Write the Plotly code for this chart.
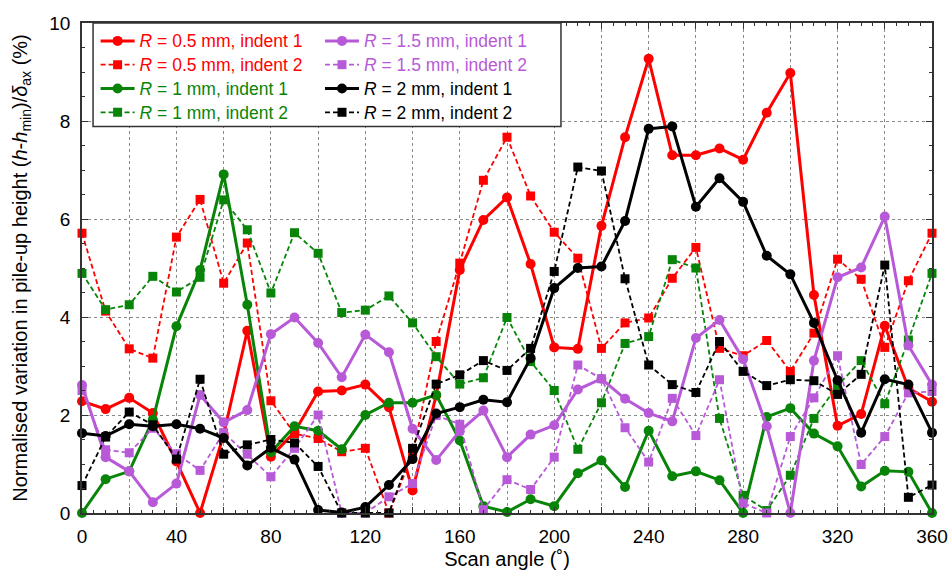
import plotly.graph_objects as go

angles = list(range(0, 361, 10))

r05_ind1 = [2.28, 2.12, 2.35, 2.04, 1.05, 0.00, 1.60, 3.72, 1.15, 1.65, 2.48, 2.50, 2.62, 2.16, 0.46, 2.40, 4.96, 5.98, 6.44, 5.08, 3.38, 3.35, 5.86, 7.67, 9.27, 7.30, 7.30, 7.44, 7.21, 8.17, 8.98, 4.45, 1.78, 2.02, 3.82, 2.55, 2.27]
r05_ind2 = [5.71, 4.12, 3.35, 3.16, 5.63, 6.40, 4.69, 5.51, 2.29, 1.62, 1.52, 1.25, 1.32, 0.00, 1.20, 3.50, 5.10, 6.79, 7.67, 6.47, 5.73, 5.20, 3.36, 3.88, 3.98, 4.79, 5.42, 3.36, 3.21, 3.52, 2.89, 3.67, 5.18, 4.77, 3.38, 4.74, 5.71]
r1_ind1 = [0.00, 0.69, 0.85, 1.90, 3.81, 4.96, 6.91, 4.25, 1.24, 1.77, 1.68, 1.30, 2.00, 2.25, 2.25, 2.41, 1.48, 0.14, 0.02, 0.28, 0.14, 0.81, 1.07, 0.53, 1.68, 0.75, 0.85, 0.67, 0.00, 1.96, 2.14, 1.62, 1.36, 0.54, 0.86, 0.84, 0.00]
r1_ind2 = [4.89, 4.15, 4.25, 4.83, 4.51, 4.81, 6.39, 5.78, 4.49, 5.72, 5.30, 4.09, 4.14, 4.43, 3.88, 3.19, 2.63, 2.76, 3.99, 3.09, 2.50, 1.30, 2.25, 3.46, 3.60, 5.17, 5.00, 1.93, 0.36, 0.05, 0.77, 1.93, 2.60, 3.11, 2.23, 3.53, 4.89]
r15_ind1 = [2.61, 1.14, 0.85, 0.22, 0.60, 2.41, 1.85, 2.10, 3.65, 3.99, 3.47, 2.77, 3.64, 3.28, 1.72, 1.08, 1.67, 2.09, 1.14, 1.60, 1.79, 2.52, 2.74, 2.33, 2.04, 1.87, 3.57, 3.94, 3.14, 1.77, 0.00, 3.11, 4.81, 5.01, 6.05, 3.42, 2.62]
r15_ind2 = [2.50, 1.29, 1.23, 1.73, 1.21, 0.87, 1.64, 1.20, 0.74, 1.32, 2.00, 0.00, 0.00, 0.33, 0.60, 1.99, 1.81, 0.07, 0.68, 0.48, 1.14, 3.02, 2.74, 1.74, 1.04, 2.34, 1.58, 2.72, 0.20, 0.00, 1.56, 2.35, 3.21, 0.99, 1.56, 2.45, 2.48]
r2_ind1 = [1.63, 1.57, 1.81, 1.77, 1.81, 1.72, 1.53, 0.97, 1.33, 1.09, 0.06, 0.01, 0.12, 0.57, 1.10, 2.03, 2.16, 2.31, 2.26, 3.16, 4.59, 5.00, 5.03, 5.96, 7.84, 7.89, 6.25, 6.83, 6.35, 5.25, 4.87, 3.88, 2.71, 1.64, 2.73, 2.62, 1.64]
r2_ind2 = [0.56, 1.55, 2.06, 1.80, 1.10, 2.73, 1.20, 1.39, 1.50, 1.43, 0.95, 0.00, 0.00, 0.00, 1.32, 2.63, 2.82, 3.11, 2.91, 3.36, 4.93, 7.06, 6.98, 4.78, 3.02, 2.62, 2.46, 3.50, 2.89, 2.60, 2.72, 2.70, 2.42, 2.83, 5.06, 0.32, 0.57]

x_tickvals = list(range(0, 361, 20))
x_ticktext = [str(v) if v % 40 == 0 else "" for v in x_tickvals]

RED = "#FF0000"
GREEN = "#088408"
PURPLE = "#B85AD8"
BLACK = "#000000"

series = [
    ("0.5", "1", r05_ind1, RED, "legend"),
    ("0.5", "2", r05_ind2, RED, "legend"),
    ("1", "1", r1_ind1, GREEN, "legend"),
    ("1", "2", r1_ind2, GREEN, "legend"),
    ("1.5", "1", r15_ind1, PURPLE, "legend2"),
    ("1.5", "2", r15_ind2, PURPLE, "legend2"),
    ("2", "1", r2_ind1, BLACK, "legend2"),
    ("2", "2", r2_ind2, BLACK, "legend2"),
]

fig = go.Figure()
for rad, ind, vals, col, leg in series:
    solid = ind == "1"
    name = f'<span style="color:{col};font-size:17.5px"><i>R</i> = {rad} mm, indent {ind}</span>'
    fig.add_trace(go.Scatter(
        x=angles, y=vals, mode="lines+markers", name=name, legend=leg,
        line=dict(color=col, width=3 if solid else 1.8, dash="solid" if solid else "5px,3px"),
        marker=dict(color=col, size=10 if solid else 9, symbol="circle" if solid else "square"),
        cliponaxis=False,
    ))

FAMILY = "Liberation Sans, Arial, sans-serif"
tick_font = dict(family=FAMILY, size=19, color="black")
title_font = dict(family=FAMILY, size=20, color="black")
legend_font = dict(family=FAMILY, size=16, color="black")

fig.update_layout(
    width=949, height=573,
    margin=dict(l=82, r=17, t=23, b=60),
    paper_bgcolor="white", plot_bgcolor="white",
    font=tick_font,
    xaxis=dict(
        range=[0, 360], tickmode="array", tickvals=x_tickvals, ticktext=x_ticktext,
        ticks="inside", ticklen=6, tickwidth=1, tickcolor="#333",
        showgrid=True, griddash="dot", gridcolor="#8a8a8a", gridwidth=1,
        showline=True, linecolor="#333", linewidth=1.5, mirror="allticks",
        zeroline=False, tickfont=tick_font, ticklabelstandoff=5, automargin=False,
        minor=dict(dtick=5, tick0=0, ticks="inside", ticklen=3, tickcolor="#333", showgrid=False),
        title=dict(text="Scan angle (˚)", font=title_font, standoff=6),
    ),
    yaxis=dict(
        range=[0, 10], dtick=2, tick0=0,
        ticks="inside", ticklen=6, tickwidth=1, tickcolor="#333",
        showgrid=True, griddash="dot", gridcolor="#8a8a8a", gridwidth=1,
        showline=True, linecolor="#333", linewidth=1.5, mirror="allticks",
        zeroline=False, tickfont=tick_font, ticklabelstandoff=6, automargin=False,
        minor=dict(dtick=0.5, tick0=0, ticks="inside", ticklen=3, tickcolor="#333", showgrid=False),
        title=dict(text="Normalised variation in pile-up height (<i>h</i>-<i>h</i><sub>min</sub>)/<i>δ</i><sub>ax</sub> (%)",
                   font=title_font, standoff=16),
    ),
    legend=dict(x=0.016, y=0.998, xanchor="left", yanchor="top", bgcolor="rgba(0,0,0,0)",
                borderwidth=0, font=legend_font, itemwidth=34, tracegroupgap=0),
    legend2=dict(x=0.28, y=0.998, xanchor="left", yanchor="top", bgcolor="rgba(0,0,0,0)",
                 borderwidth=0, font=legend_font, itemwidth=34, tracegroupgap=0),
    shapes=[dict(type="rect", xref="paper", yref="paper", x0=0.013, x1=0.5635, y0=0.789, y1=1.0,
                 line=dict(color="#333", width=1.5), fillcolor="white", layer="above")],
    showlegend=True,
)

fig.write_html("out.html")
